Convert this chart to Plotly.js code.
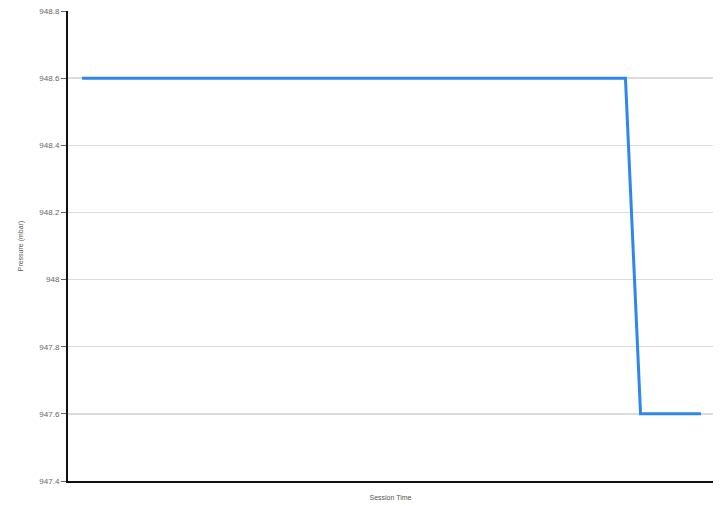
<!DOCTYPE html>
<html>
<head>
<meta charset="utf-8">
<script src="https://cdn.plot.ly/plotly-3.0.1.min.js"></script>
<style>html,body{margin:0;padding:0;background:#fff;}#chart{width:726px;height:506px;}</style>
</head>
<body>
<div id="chart"></div>
<script>
var sessionTime = [0,1,2,3,4,5,6,7,8,9,10,11,12,13,14,15,16,17,18,19,20,21,22,23,24,25,26,27,28,29,30,31,32,33,34,35,36,37,38,39,40,41];
var pressure = [948.6,948.6,948.6,948.6,948.6,948.6,948.6,948.6,948.6,948.6,
                948.6,948.6,948.6,948.6,948.6,948.6,948.6,948.6,948.6,948.6,
                948.6,948.6,948.6,948.6,948.6,948.6,948.6,948.6,948.6,948.6,
                948.6,948.6,948.6,948.6,948.6,948.6,948.6,
                947.6,947.6,947.6,947.6,947.6];
var yTicks = [947.4,947.6,947.8,948,948.2,948.4,948.6,948.8];
var yTickLabels = ['947.4','947.6','947.8','948','948.2','948.4','948.6','948.8'];

var trace = {
  x: sessionTime, y: pressure, type: 'scatter', mode: 'lines',
  line: {color: '#2f86f0', width: 3}, hoverinfo: 'none'
};
var layout = {
  width: 726, height: 506,
  margin: {l: 68, r: 13, t: 11, b: 25},
  paper_bgcolor: '#fff', plot_bgcolor: '#fff',
  showlegend: false,
  font: {family: 'Liberation Sans, Arial, sans-serif', size: 8, color: '#555'},
  xaxis: {
    range: [-0.93, 41.8], showgrid: false, zeroline: false,
    showticklabels: false, ticks: '',
    showline: true, linecolor: '#111', linewidth: 2,
    title: {text: 'Session Time', font: {size: 7, color: '#555'}, standoff: 13}
  },
  yaxis: {
    range: [947.4, 948.8], tickvals: yTicks, ticktext: yTickLabels,
    showgrid: true, gridcolor: '#dcdcdc', gridwidth: 1.5, zeroline: false,
    showline: true, linecolor: '#111', linewidth: 2,
    ticks: 'outside', ticklen: 5, tickcolor: '#666', tickwidth: 1,
    tickfont: {size: 8, color: '#666'},
    title: {text: 'Pressure (mbar)', font: {size: 7, color: '#555'}, standoff: 15}
  }
};
Plotly.newPlot('chart', [trace], layout, {displayModeBar: false, staticPlot: true});
</script>
</body>
</html>
